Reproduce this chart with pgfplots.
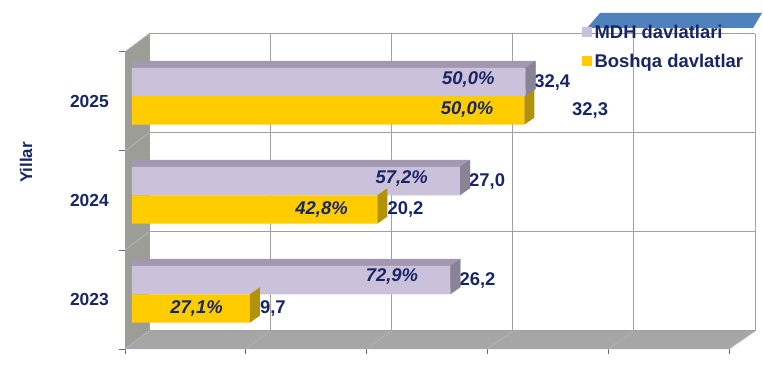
\documentclass[border=0pt]{standalone}
\usepackage{pgfplots}
\pgfplotsset{compat=1.18}
\usepackage{pgfplotstable}
\usepackage{fontspec}
\setmainfont{Liberation Sans}
\definecolor{navy}{RGB}{24,38,102}
\definecolor{mdh}{RGB}{204,193,218}
\definecolor{mdhtop}{RGB}{162,153,176}
\definecolor{mdhside}{RGB}{138,131,150}
\definecolor{gold}{RGB}{255,204,0}
\definecolor{goldside}{RGB}{178,146,8}
\definecolor{wall}{RGB}{157,157,152}
\definecolor{floorc}{RGB}{166,166,166}
\definecolor{gridc}{RGB}{160,160,160}
\definecolor{diagc}{RGB}{180,180,180}
\definecolor{legblue}{RGB}{79,129,189}
\newcommand{\yearfont}{\fontsize{17.5}{20}\selectfont\bfseries}
\newcommand{\valfont}{\fontsize{18.5}{21}\selectfont\bfseries}
\newcommand{\pctfont}{\fontsize{18.5}{21}\selectfont\bfseries\itshape}
% right face of a 3D bar, drawn at the bar end (front face height 28.33bp)
\pgfdeclareplotmark{rface}{%
  \pgfpathmoveto{\pgfqpoint{0bp}{-14.17bp}}%
  \pgfpathlineto{\pgfqpoint{10bp}{-7.17bp}}%
  \pgfpathlineto{\pgfqpoint{10bp}{21.17bp}}%
  \pgfpathlineto{\pgfqpoint{0bp}{14.17bp}}%
  \pgfpathclose\pgfusepathqfill}

\pgfplotstableread{
y mdh bosh pm pb
0 26.2 9.7 72.9 27.1
1 27.0 20.2 57.2 42.8
2 32.4 32.3 50.0 50.0
}\data

\begin{document}
\begin{tikzpicture}
\fill[legblue] (587bp,337bp) -- (753bp,337bp) -- (762bp,352bp) -- (600bp,352bp) -- cycle;
\begin{axis}[
  at={(125bp,16bp)}, anchor=south west,
  scale only axis, width=631.5bp, height=315.2bp,
  xmin=-0.576, xmax=51.4, ymin=-0.552, ymax=2.63,
  clip=false,
  axis line style={draw=none},
  tick align=outside, tick pos=left,
  major tick length=5.5bp,
  tick style={draw=gray!85!black, line width=0.8bp},
  xtick={-0.576,9.366,19.308,29.25,39.192,49.134}, xticklabels={},
  ytick={-0.552,0.448,1.448,2.448}, yticklabels={},
  extra y ticks={-0.052,0.948,1.948},
  extra y tick labels={2023,2024,2025},
  extra y tick style={major tick length=0pt, yticklabel style={inner sep=0pt, anchor=east, xshift=-16bp, font=\yearfont, text=navy}},
  legend style={at={(0.7237,1.0279)}, anchor=north west, draw=none, fill=none,
    inner sep=0pt, row sep=13bp, column sep=3bp, font=\valfont, text=navy,
    nodes={inner sep=0pt, text height=13bp, text depth=3bp}},
  legend cell align=left,
]
% back wall grid
\pgfplotsinvokeforeach{0,1,2,3,4,5}{\draw[gridc, line width=1bp] (axis cs:{1.40+9.976*#1},-0.37) -- (axis cs:{1.40+9.976*#1},2.63);}
\pgfplotsinvokeforeach{0,1,2,3}{\draw[gridc, line width=1bp] (axis cs:1.40,{-0.37+#1}) -- (axis cs:51.28,{-0.37+#1});}
% side wall
\fill[wall] (axis cs:-0.576,-0.552) -- (axis cs:-0.576,2.448) -- (axis cs:1.40,2.63) -- (axis cs:1.40,-0.37) -- cycle;
\pgfplotsinvokeforeach{0,1,2,3}{\draw[diagc, line width=0.8bp] (axis cs:-0.576,{-0.552+#1}) -- (axis cs:1.40,{-0.37+#1});}
% floor
\fill[floorc] (axis cs:-0.576,-0.552) -- (axis cs:49.134,-0.552) -- (axis cs:51.28,-0.37) -- (axis cs:1.40,-0.37) -- cycle;
\pgfplotsinvokeforeach{0,1,2,3,4,5}{\draw[diagc, line width=0.8bp] (axis cs:{-0.576+9.942*#1},-0.552) -- (axis cs:{1.40+9.976*#1},-0.37);}
% bar top faces (MDH) and right faces
\addplot[xbar, fill=mdhtop, draw=none, bar width=0.286, bar shift=0.143, forget plot]
  table[x expr=\thisrow{mdh}+0.823, y expr=\thisrow{y}+0.0707] {\data};
\addplot[only marks, mark=rface, color=goldside, forget plot]
  table[x=bosh, y expr=\thisrow{y}-0.143] {\data};
\addplot[only marks, mark=rface, color=mdhside, forget plot]
  table[x=mdh, y expr=\thisrow{y}+0.143] {\data};
% bar front faces
\addplot[xbar, fill=mdh, draw=none, bar width=0.286, bar shift=0.143, forget plot]
  table[x=mdh, y=y] {\data};
\addplot[xbar, fill=gold, draw=none, bar width=0.286, bar shift=-0.143, forget plot]
  table[x=bosh, y=y] {\data};
\addlegendimage{legend image code/.code={\fill[mdh] (0bp,-3bp) rectangle (9bp,6bp);}}
\addlegendentry{MDH davlatlari}
\addlegendimage{legend image code/.code={\fill[gold] (0bp,-3bp) rectangle (9bp,6bp);}}
\addlegendentry{Boshqa davlatlar}
% value labels
\begin{scope}[every node/.style={inner sep=0pt, text=navy}]
\node[anchor=west, font=\valfont, xshift=9bp] at (axis cs:26.2,0.143) {26,2};
\node[anchor=west, font=\valfont, xshift=9bp] at (axis cs:27.0,1.143) {27,0};
\node[anchor=west, font=\valfont, xshift=8.5bp] at (axis cs:32.4,2.143) {32,4};
\node[anchor=west, font=\valfont, xshift=10bp] at (axis cs:9.7,-0.143) {9,7};
\node[anchor=west, font=\valfont, xshift=10bp] at (axis cs:20.2,0.857) {20,2};
\node[anchor=west, font=\valfont, xshift=47.5bp] at (axis cs:32.3,1.857) {32,3};
\node[anchor=east, font=\pctfont, xshift=-32bp, yshift=4bp] at (axis cs:26.2,0.143) {72,9\%};
\node[anchor=east, font=\pctfont, xshift=-32bp, yshift=2.5bp] at (axis cs:27.0,1.143) {57,2\%};
\node[anchor=east, font=\pctfont, xshift=-31bp, yshift=2.5bp] at (axis cs:32.4,2.143) {50,0\%};
\node[anchor=east, font=\pctfont, xshift=-27bp] at (axis cs:9.7,-0.143) {27,1\%};
\node[anchor=east, font=\pctfont, xshift=-29.5bp] at (axis cs:20.2,0.857) {42,8\%};
\node[anchor=east, font=\pctfont, xshift=-31bp, yshift=1bp] at (axis cs:32.3,1.857) {50,0\%};
\end{scope}
\end{axis}
\node[rotate=90, inner sep=0pt, text=navy, font=\fontsize{17}{20}\selectfont\bfseries] at (26bp,202.5bp) {Yillar};
\pgfresetboundingbox
\path[use as bounding box] (0,0) rectangle (763bp,365bp);
\end{tikzpicture}
\end{document}
